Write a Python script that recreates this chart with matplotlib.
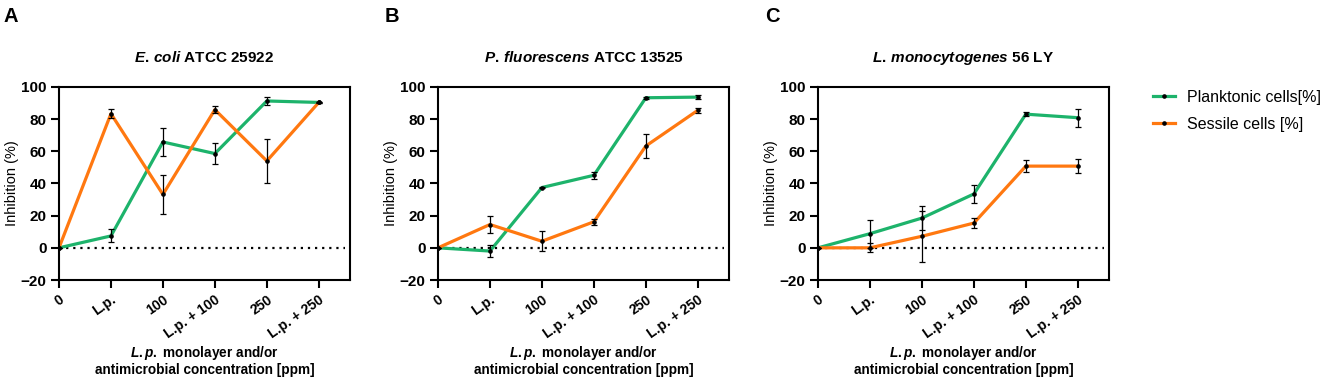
import matplotlib.pyplot as plt
from matplotlib.lines import Line2D

plt.rcParams['font.family'] = ['Liberation Sans', 'DejaVu Sans']
plt.rcParams['mathtext.fontset'] = 'custom'
plt.rcParams['mathtext.it'] = 'Liberation Sans:italic:bold'
plt.rcParams['mathtext.rm'] = 'Liberation Sans:bold'

# categories on the x axis
categories = ["0", "L.p.", "100", "L.p. + 100", "250", "L.p. + 250"]

# panel titles
titles = [r"$\mathit{E.\,coli}$ ATCC 25922",
          r"$\mathit{P.\,fluorescens}$ ATCC 13525",
          r"$\mathit{L.\,monocytogenes}$ 56 LY"]
panel_letters = ["A", "B", "C"]

# planktonic cells (%) and error
plank_a = [0, 7.4, 65.8, 58.6, 91.3, 90.4]
plank_a_err = [0, 4.0, 9.0, 6.6, 2.3, 0.5]
plank_b = [0, -2.0, 37.5, 45.1, 93.3, 93.7]
plank_b_err = [0, 3.6, 0.5, 2.2, 0.5, 1.2]
plank_c = [0, 8.8, 18.5, 33.5, 83.1, 80.9]
plank_c_err = [0, 8.8, 7.7, 5.6, 1.2, 5.6]

# sessile cells (%) and error
sess_a = [0, 83.4, 33.2, 85.9, 54.0, 90.4]
sess_a_err = [0, 2.8, 12.2, 2.0, 13.9, 0.5]
sess_b = [0, 14.5, 4.1, 16.2, 63.3, 85.5]
sess_b_err = [0, 5.5, 6.2, 2.0, 7.7, 1.6]
sess_c = [0, 0.0, 7.2, 15.4, 50.8, 50.8]
sess_c_err = [0, 2.8, 16.0, 3.0, 3.8, 4.2]

plank = [(plank_a, plank_a_err), (plank_b, plank_b_err), (plank_c, plank_c_err)]
sess = [(sess_a, sess_a_err), (sess_b, sess_b_err), (sess_c, sess_c_err)]

green = '#1db36b'
orange = '#ff7810'

fig = plt.figure(figsize=(13.25, 3.79), dpi=100)
lefts = [59 / 1325, 438 / 1325, 818 / 1325]
letter_x = [3 / 1325, 385 / 1325, 765 / 1325]
x = list(range(len(categories)))

for i in range(3):
    ax = fig.add_axes([lefts[i], 0.2612, 0.2196, 0.5093])
    ax.axhline(0, xmin=0, xmax=5.5 / 5.6, color='black', ls=(0, (1, 2.2)), lw=1.6, zorder=1)
    for (vals, err), col in [(plank[i], green), (sess[i], orange)]:
        ax.plot(x, vals, color=col, lw=2.3, zorder=2)
        ax.errorbar(x, vals, yerr=err, fmt='o', color='black', ms=2.3,
                    elinewidth=0.9, capsize=2, capthick=0.9, zorder=3)
    ax.set_xlim(0, 5.6)
    ax.set_ylim(-20, 100)
    ax.set_yticks(range(-20, 101, 20))
    ax.set_xticks(x)
    ax.set_xticklabels(categories, rotation=35, ha='right', rotation_mode='anchor',
                       fontweight='bold', fontsize=10)
    for lab in ax.get_yticklabels():
        lab.set_fontweight('bold')
        lab.set_fontsize(11)
    for s in ax.spines.values():
        s.set_linewidth(1.5)
    ax.tick_params(direction='out', length=6, width=1.5, pad=3)
    ax.set_ylabel("Inhibition (%)", fontsize=10.5, labelpad=1.5)
    ax.set_title(titles[i], fontsize=11, fontweight='bold', pad=18)
    ax.text(0.5, -0.415, r"$\mathit{L.p.}$ monolayer and/or" + "\nantimicrobial concentration [ppm]",
            transform=ax.transAxes, ha='center', va='center', fontsize=9.8,
            fontweight='bold', linespacing=1.1)
    fig.text(letter_x[i], 1 - 6.5 / 379, panel_letters[i], fontsize=14.5,
             fontweight='bold', va='top', ha='left')

handles = [Line2D([], [], color=green, lw=2.3, marker='o', ms=2.3, mfc='black', mec='black'),
           Line2D([], [], color=orange, lw=2.3, marker='o', ms=2.3, mfc='black', mec='black')]
fig.legend(handles, ["Planktonic cells[%]", "Sessile cells [%]"], loc='center left',
           bbox_to_anchor=(1153 / 1325, 1 - 111 / 379), frameon=False, fontsize=11.5,
           handlelength=1.35, handletextpad=0.75, labelspacing=0.75,
           borderpad=0, borderaxespad=0)

fig.savefig('out.png', dpi=100)
